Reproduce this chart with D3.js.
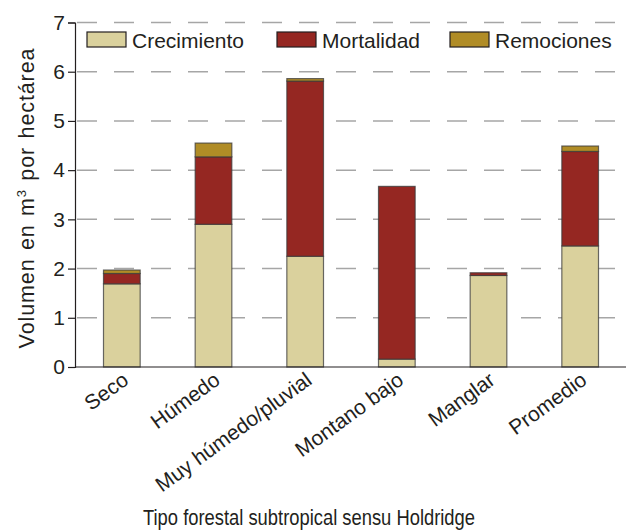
<!DOCTYPE html>
<html><head><meta charset="utf-8">
<script src="https://cdn.jsdelivr.net/npm/d3@7"></script>
<style>body{margin:0;background:#fff}svg text{font-family:"Liberation Sans",Arial,sans-serif;fill:#231f20}</style>
</head><body><svg id="c" width="627" height="531"></svg>
<script>
const categories = ["Seco","Húmedo","Muy húmedo/pluvial","Montano bajo","Manglar","Promedio"];
const seriesNames = ["Crecimiento","Mortalidad","Remociones"];
const crecimiento = [1.69, 2.90, 2.25, 0.16, 1.86, 2.46];
const mortalidad  = [0.21, 1.37, 3.56, 3.51, 0.055, 1.92];
const remociones  = [0.07, 0.28, 0.05, 0.0, 0.0, 0.11];
const yTicks = [0,1,2,3,4,5,6,7];
const colors = ["#dad19d","#952722","#b08c26"];

const svg = d3.select("#c");
const x = d3.scaleBand().domain(categories).range([76,626]).paddingInner(0.6).paddingOuter(0.3);
const y = d3.scaleLinear().domain([0,7]).range([367,22.5]);

// grid
svg.append("g").selectAll("line").data(yTicks.filter(d=>d>0)).join("line")
  .attr("x1",77).attr("x2",622).attr("y1",d=>y(d)).attr("y2",d=>y(d))
  .attr("stroke","#a6a6a6").attr("stroke-width",1.5).attr("stroke-dasharray","20,17");

const table = categories.map((c,i)=>({cat:c,Crecimiento:crecimiento[i],Mortalidad:mortalidad[i],Remociones:remociones[i]}));
const stack = d3.stack().keys(seriesNames)(table);
svg.append("g").selectAll("g").data(stack).join("g")
  .attr("fill",(d,i)=>colors[i])
  .selectAll("rect").data(d=>d.filter(p=>p[1]-p[0]>0)).join("rect")
  .attr("x",d=>x(d.data.cat)).attr("width",x.bandwidth())
  .attr("y",d=>y(d[1])).attr("height",d=>y(d[0])-y(d[1]))
  .attr("stroke","#3a3a3a").attr("stroke-opacity",0.75).attr("stroke-width",1.2);

// axes
const ya = svg.append("g").attr("transform","translate(75,0)")
  .call(d3.axisLeft(y).tickValues(yTicks).tickSize(7).tickPadding(3).tickFormat(d3.format("d")));
ya.select(".domain").attr("stroke","#231f20").attr("stroke-width",1.2);
ya.selectAll(".tick line").attr("stroke","#231f20").attr("stroke-width",1.2);
ya.selectAll("text").attr("font-size",21).attr("fill","#231f20").attr("font-family","Liberation Sans, Arial, sans-serif");

const xa = svg.append("g").attr("transform","translate(0,367)")
  .call(d3.axisBottom(x).tickSize(0).tickSizeOuter(0));
xa.select(".domain").attr("stroke","#231f20").attr("stroke-width",1.2).attr("d","M75,0H626");
xa.selectAll("text").attr("font-size",21).attr("fill","#231f20").attr("font-family","Liberation Sans, Arial, sans-serif")
  .attr("text-anchor","end").attr("x",0).attr("y",0).attr("dy",0)
  .attr("transform","translate(8,16) rotate(-36)");

// legend
const lg = svg.append("g").selectAll("g").data(seriesNames).join("g")
  .attr("transform",(d,i)=>`translate(${[87,277,450][i]},32)`);
lg.append("rect").attr("width",39).attr("height",15).attr("fill",(d,i)=>colors[i])
  .attr("stroke","#231f20").attr("stroke-width",1.2);
lg.append("text").attr("x",45).attr("y",15.5).attr("font-size",21).text(d=>d);

// titles
const yt = svg.append("text").attr("transform","translate(34,198) rotate(-90)")
  .attr("text-anchor","middle").attr("font-size",21.5).attr("letter-spacing",0.9).attr("word-spacing",1.5);
yt.append("tspan").text("Volumen en m");
yt.append("tspan").attr("font-size",13).attr("dy",-8).text("3");
yt.append("tspan").attr("dy",8).text(" por hectárea");
svg.append("text").attr("x",309).attr("y",525).attr("text-anchor","middle").attr("font-size",22.5)
  .attr("textLength",332).attr("lengthAdjust","spacingAndGlyphs")
  .text("Tipo forestal subtropical sensu Holdridge");
</script></body></html>
